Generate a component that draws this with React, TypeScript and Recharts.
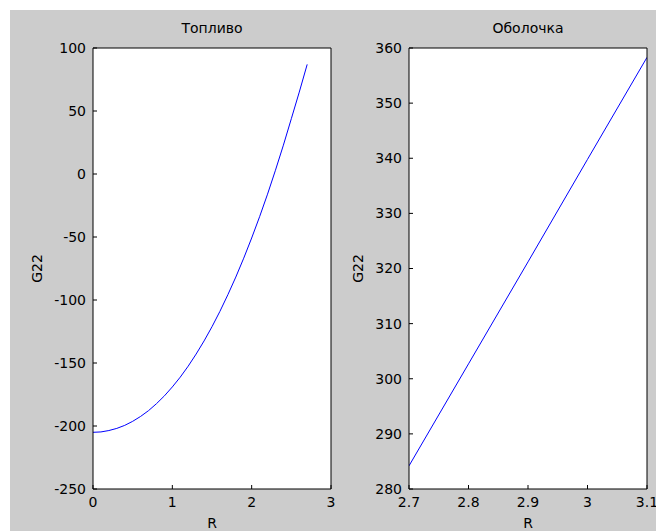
import { LineChart, Line, XAxis, YAxis, CartesianGrid, Label } from "recharts";

// Топливо: G22 vs R
const fuelR = [
  0, 0.1, 0.2, 0.3, 0.4, 0.5, 0.6, 0.7, 0.8, 0.9, 1.0, 1.1, 1.2, 1.3, 1.4,
  1.5, 1.6, 1.7, 1.8, 1.9, 2.0, 2.1, 2.2, 2.3, 2.4, 2.5, 2.6, 2.7,
];
const fuelG22 = [
  -205, -204.7, -203.6, -201.9, -199.5, -196.3, -192.4, -187.8, -182.3,
  -176.1, -169.0, -161.2, -152.5, -142.9, -132.5, -121.2, -109.0, -95.8,
  -81.8, -66.8, -50.8, -33.9, -16.0, 3.0, 22.9, 43.9, 65.0, 87.0,
];
const fuelXTicks = [0, 1, 2, 3];
const fuelYTicks = [-250, -200, -150, -100, -50, 0, 50, 100];

// Оболочка: G22 vs R
const cladR = [2.7, 2.8, 2.9, 3.0, 3.1];
const cladG22 = [284.2, 302.7, 321.2, 339.8, 358.3];
const cladXTicks = [2.7, 2.8, 2.9, 3, 3.1];
const cladYTicks = [280, 290, 300, 310, 320, 330, 340, 350, 360];

const fuelData = fuelR.map((r, i) => ({ r, g: fuelG22[i] }));
const cladData = cladR.map((r, i) => ({ r, g: cladG22[i] }));

const FONT = "'DejaVu Sans', sans-serif";
const FS = 14;
const BG = "#cccccc";

const yLabel = (dist: number) => (props: any) => {
  const vb = props.viewBox || {};
  const x = vb.x + vb.width - dist;
  const y = vb.y + vb.height / 2;
  return (
    <text
      x={x}
      y={y}
      transform={`rotate(-90, ${x}, ${y})`}
      textAnchor="middle"
      fill="#000"
      fontSize={FS}
    >
      G22
    </text>
  );
};

interface PanelProps {
  data: { r: number; g: number }[];
  title: string;
  xDomain: [number, number];
  yDomain: [number, number];
  xTicks: number[];
  yTicks: number[];
  left: number;
  width: number;
  marginLeft: number;
  labelDist: number;
}

function Panel({
  data,
  title,
  xDomain,
  yDomain,
  xTicks,
  yTicks,
  left,
  width,
  marginLeft,
  labelDist,
}: PanelProps) {
  const tick = { fill: "#000", fontSize: FS };
  return (
    <div style={{ position: "absolute", left, top: 10, width, height: 521 }}>
      <LineChart
        width={width}
        height={521}
        data={data}
        margin={{ top: 8, right: 4, bottom: 2, left: marginLeft }}
      >
        <CartesianGrid
          horizontal={false}
          vertical={false}
          fill="#ffffff"
          stroke="none"
        />
        <XAxis
          dataKey="r"
          type="number"
          domain={xDomain}
          ticks={xTicks}
          allowDataOverflow
          height={40}
          stroke="#000"
          tickSize={-4}
          tickMargin={12}
          tick={tick}
          interval={0}
        >
          <Label value="R" position="bottom" offset={-11} fill="#000" fontSize={FS} />
        </XAxis>
        <XAxis
          xAxisId="top"
          orientation="top"
          type="number"
          dataKey="r"
          domain={xDomain}
          ticks={xTicks}
          allowDataOverflow
          height={30}
          stroke="#000"
          tickSize={-4}
          tick={false}
          interval={0}
        >
          <Label value={title} position="top" offset={-15} fill="#000" fontSize={FS} />
        </XAxis>
        <YAxis
          type="number"
          domain={yDomain}
          ticks={yTicks}
          allowDataOverflow
          width={60}
          stroke="#000"
          tickSize={-4}
          tickMargin={11}
          tick={tick}
          interval={0}
          label={{ content: yLabel(labelDist) } as any}
        />
        <YAxis
          yAxisId="right"
          orientation="right"
          type="number"
          domain={yDomain}
          ticks={yTicks}
          allowDataOverflow
          width={5}
          stroke="#000"
          tickSize={-4}
          tick={false}
          interval={0}
        />
        <Line
          dataKey="g"
          type="linear"
          stroke="#0000ff"
          strokeWidth={1}
          dot={false}
          activeDot={false}
          isAnimationActive={false}
        />
      </LineChart>
    </div>
  );
}

export default function App() {
  return (
    <div
      style={{
        position: "absolute",
        left: 0,
        top: 0,
        width: 656,
        height: 531,
        overflow: "hidden",
        fontFamily: FONT,
      }}
    >
      <div
        style={{
          position: "absolute",
          left: 10,
          top: 10,
          width: 646,
          height: 521,
          background: BG,
        }}
      />
      <Panel
        data={fuelData}
        title="Топливо"
        xDomain={[0, 3]}
        yDomain={[-250, 100]}
        xTicks={fuelXTicks}
        yTicks={fuelYTicks}
        left={10}
        width={330}
        marginLeft={23}
        labelDist={51}
      />
      <Panel
        data={cladData}
        title="Оболочка"
        xDomain={[2.7, 3.1]}
        yDomain={[280, 360]}
        xTicks={cladXTicks}
        yTicks={cladYTicks}
        left={340}
        width={316}
        marginLeft={9}
        labelDist={46}
      />
    </div>
  );
}
